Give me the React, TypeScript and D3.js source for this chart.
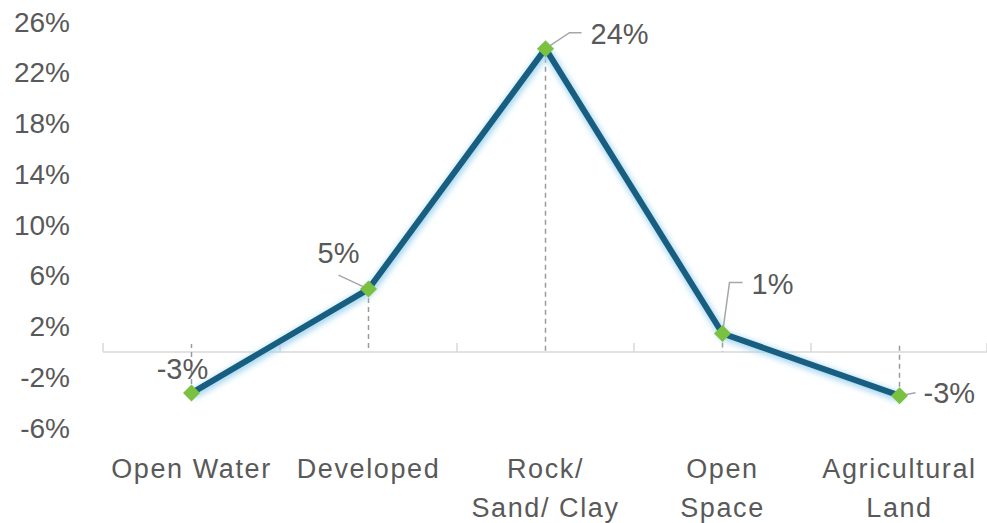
import React from "react";
import * as d3 from "d3";

const categories: string[][] = [
  ["Open Water"],
  ["Developed"],
  ["Rock/", "Sand/ Clay"],
  ["Open", "Space"],
  ["Agricultural", "Land"],
];
const values: number[] = [-3.25, 4.95, 23.9, 1.45, -3.45];
const yTicks: number[] = [-6, -2, 2, 6, 10, 14, 18, 22, 26];

// label placement (dx, dy relative to point) and leader lines
const labelLayout = [
  { dx: -9, dy: -24, anchor: "middle", leader: null as null | number[][] },
  { dx: -30, dy: -36, anchor: "middle", leader: [[0, 0], [-30, -14]] },
  { dx: 45, dy: -15, anchor: "start", leader: [[0, 0], [24, -16], [36, -16]] },
  { dx: 29, dy: -49, anchor: "start", leader: [[0, 0], [7, -51], [20, -51]] },
  { dx: 24, dy: -3, anchor: "start", leader: [[0, 0], [16, -3]] },
];

const W = 987;
const H = 523;
const FONT = "'Liberation Sans', Arial, sans-serif";

export default function App() {
  const x = d3
    .scaleBand<number>()
    .domain(d3.range(categories.length))
    .range([103, 988]);
  const y = d3.scaleLinear().domain([-6, 26]).range([428, 22]);
  const cx = (i: number) => (x(i) as number) + x.bandwidth() / 2;
  const y0 = y(0);

  const line = d3
    .line<number>()
    .x((_, i) => cx(i))
    .y((d) => y(d));
  const path = line(values) || "";

  return (
    <div style={{ position: "absolute", left: 0, top: 0 }}>
      <svg width={W} height={H} style={{ display: "block" }}>
        <defs>
          <filter id="glow" x="-10%" y="-10%" width="120%" height="120%">
            <feGaussianBlur stdDeviation="3" />
          </filter>
        </defs>
        <rect width={W} height={H} fill="#ffffff" />
        {/* y labels */}
        {yTicks.map((t) => (
          <text
            key={t}
            x={70}
            y={y(t)}
            textAnchor="end"
            dominantBaseline="central"
            fontFamily={FONT}
            fontSize={28}
            fill="#595959"
          >
            {`${t}%`}
          </text>
        ))}
        {/* x axis */}
        <line x1={103} x2={987} y1={y0} y2={y0} stroke="#d9d9d9" strokeWidth={1.5} />
        {d3.range(categories.length + 1).map((i) => {
          const xx = i < categories.length ? (x(i) as number) : 987;
          return (
            <line key={i} x1={xx} x2={xx} y1={y0 - 9} y2={y0} stroke="#d9d9d9" strokeWidth={1.5} />
          );
        })}
        {/* drop lines */}
        {values.map((v, i) => (
          <line
            key={i}
            x1={cx(i)}
            x2={cx(i)}
            y1={y(v)}
            y2={v >= 0 ? y0 : y0 - 8}
            stroke="#9a9a9a"
            strokeWidth={1.5}
            strokeDasharray="5,4"
          />
        ))}
        {/* category labels */}
        {categories.map((lines, i) => (
          <text
            key={i}
            x={cx(i)}
            y={478}
            textAnchor="middle"
            fontFamily={FONT}
            fontSize={27}
            letterSpacing={1.6}
            fill="#595959"
          >
            {lines.map((l, j) => (
              <tspan key={j} x={cx(i)} dy={j === 0 ? 0 : 39}>
                {l}
              </tspan>
            ))}
          </text>
        ))}
        {/* line glow */}
        <path
          d={path}
          fill="none"
          stroke="#9fd3ee"
          strokeWidth={8}
          strokeLinejoin="round"
          transform="translate(1,2)"
          filter="url(#glow)"
        />
        <path d={path} fill="none" stroke="#175e80" strokeWidth={6} strokeLinejoin="round" />
        {/* leader lines */}
        {values.map((v, i) => {
          const L = labelLayout[i].leader;
          if (!L) return null;
          const pts = L.map(([dx, dy]) => `${cx(i) + dx},${y(v) + dy}`).join(" ");
          return <polyline key={i} points={pts} fill="none" stroke="#a6a6a6" strokeWidth={1.5} />;
        })}
        {/* markers */}
        {values.map((v, i) => (
          <rect
            key={i}
            x={cx(i) - 6}
            y={y(v) - 6}
            width={12}
            height={12}
            fill="#7ac142"
            transform={`rotate(45 ${cx(i)} ${y(v)})`}
          />
        ))}
        {/* data labels */}
        {values.map((v, i) => {
          const lay = labelLayout[i];
          return (
            <text
              key={i}
              x={cx(i) + lay.dx}
              y={y(v) + lay.dy}
              textAnchor={lay.anchor as any}
              dominantBaseline="central"
              fontFamily={FONT}
              fontSize={29}
              fill="#595959"
            >
              {`${Math.round(v)}%`}
            </text>
          );
        })}
      </svg>
    </div>
  );
}
